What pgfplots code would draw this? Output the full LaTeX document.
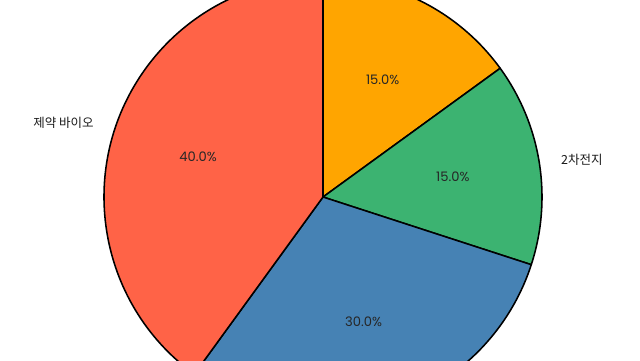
\documentclass[border=0pt]{standalone}
\usepackage{pgfplots}
\usepackage{pgfplotstable}
\pgfplotsset{compat=1.18}
\usepackage{fontspec}
\setmainfont{Poppins}
\newfontfamily\kr{Noto Sans CJK KR}
\definecolor{cOrange}{HTML}{FFA500}
\definecolor{cGreen}{HTML}{3CB371}
\definecolor{cBlue}{HTML}{4682B4}
\definecolor{cRed}{HTML}{FF6347}
% slices clockwise from the top
\pgfplotstableread[col sep=comma]{
value,color,label
15,cOrange,none
15,cGreen,2차전지
30,cBlue,none
40,cRed,제약 바이오
}\piedata
\def\nonestr{none}
\begin{document}
\begin{tikzpicture}
\begin{axis}[
  scale only axis, width=16cm, height=9cm,
  xmin=0, xmax=640, ymin=0, ymax=360,
  hide axis, clip=true,
  /pgf/number format/assume math mode=true,
]
\path (rel axis cs:0,0) rectangle (rel axis cs:1,1);
\pgfplotstablegetrowsof{\piedata}
\pgfmathtruncatemacro\N{\pgfplotsretval-1}
\def\curangle{90}
\def\cx{323}\def\cy{163}\def\R{219}
\pgfplotsforeachungrouped \i in {0,...,\N}{%
  \pgfplotstablegetelem{\i}{value}\of\piedata \let\v\pgfplotsretval
  \pgfplotstablegetelem{\i}{color}\of\piedata \let\c\pgfplotsretval
  \pgfplotstablegetelem{\i}{label}\of\piedata \let\l\pgfplotsretval
  \pgfmathsetmacro\endangle{\curangle-3.6*\v}%
  \pgfmathsetmacro\midangle{(\curangle+\endangle)/2}%
  \pgfmathsetmacro\sx{\cx+\R*cos(\curangle)}%
  \pgfmathsetmacro\sy{\cy+\R*sin(\curangle)}%
  \pgfmathsetmacro\px{\cx+0.6*\R*cos(\midangle)}%
  \pgfmathsetmacro\py{\cy+0.6*\R*sin(\midangle)}%
  \pgfmathsetmacro\lx{\cx+1.1*\R*cos(\midangle)}%
  \pgfmathsetmacro\ly{\cy+1.1*\R*sin(\midangle)}%
  \pgfmathsetmacro\pct{\v}%
  \pgfmathparse{cos(\midangle)>0?"west":"east"}\let\anch\pgfmathresult
  \edef\cmd{%
    \noexpand\filldraw[fill=\c, draw=black, line width=1.1pt, line join=round]
      (axis cs:\cx,\cy) -- (axis cs:\sx,\sy)
      arc[start angle=\curangle, end angle=\endangle, radius=5.475cm] -- cycle;
    \noexpand\node[font=\noexpand\fontsize{9.3}{10}\noexpand\selectfont, text=black!85] at (axis cs:\px,\py)
      {\noexpand\pgfmathprintnumber[fixed, fixed zerofill, precision=1, assume math mode=true]{\pct}\noexpand\%};
  }%
  \cmd
  \ifx\l\nonestr\else
  \edef\cmd{%
    \noexpand\node[anchor=\anch, inner sep=0pt, font=\noexpand\kr\noexpand\fontsize{8.9}{10}\noexpand\selectfont, text=black!90] at (axis cs:\lx,\ly) {\l};
  }%
  \cmd
  \fi
  \global\let\curangle\endangle
}
\end{axis}
\end{tikzpicture}
\end{document}
